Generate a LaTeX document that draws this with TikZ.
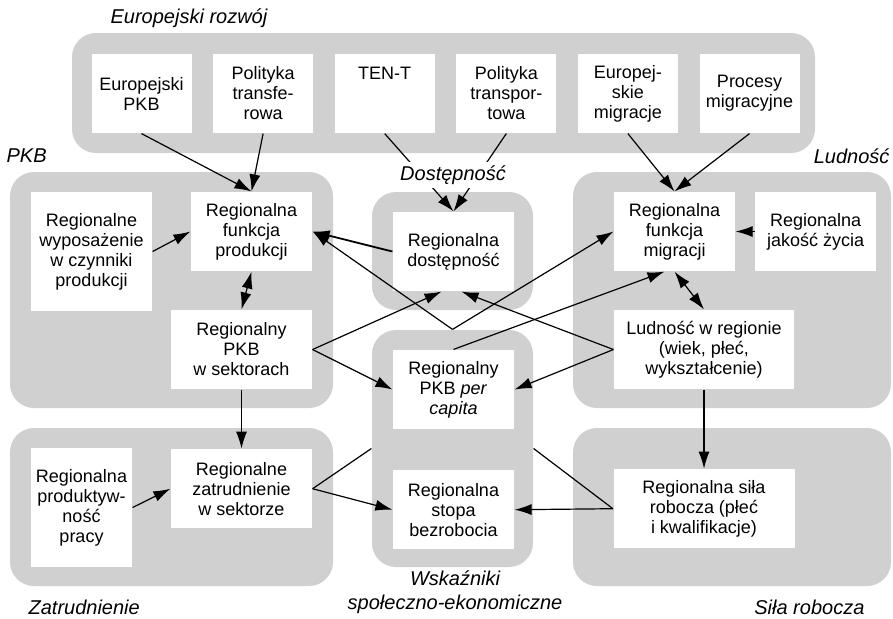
\documentclass[tikz,border=0pt]{standalone}
\usepackage{fontspec}
\setmainfont{Liberation Sans}
\usetikzlibrary{positioning, arrows.meta}

\definecolor{panelgray}{RGB}{208,208,208}

\tikzset{
  panel/.style = {fill=panelgray, rounded corners=12pt, inner sep=0pt},
  box/.style = {fill=white, align=center, inner sep=0pt, minimum width=60.5pt, minimum height=39.5pt},
  tallbox/.style = {box, minimum height=59.5pt},
  topbox/.style = {box, minimum width=50pt},
  grouplabel/.style = {font=\itshape, inner sep=0pt},
}

\begin{document}
\begin{tikzpicture}[x=0.5pt, y=-0.5pt, >={Latex[length=8.5pt, width=5.5pt]}, line width=0.6pt,
    font=\fontsize{9}{10}\selectfont, node distance=10.2pt]
    \useasboundingbox (0,0) rectangle (893,618);

    % grey groups
    \node[panel, minimum width=371.5pt, minimum height=60pt] (eur) at (443.5,93) {};
    \node[panel, minimum width=161.5pt, minimum height=118pt] (pkb) at (171.5,290) {};
    \node[panel, minimum width=80.5pt, minimum height=59pt] (dostp) at (452.5,251) {};
    \node[panel, minimum width=80.5pt, minimum height=118.5pt] (wsk) at (452.5,448.5) {};
    \node[panel, minimum width=159pt, minimum height=118pt] (ludp) at (732,290) {};
    \node[panel, minimum width=161.5pt, minimum height=79pt] (zatp) at (171.5,507) {};
    \node[panel, minimum width=159pt, minimum height=79pt] (silp) at (732,507) {};

    % European level
    \node[topbox] (eurpkb) at (141.5,93.5) {Europejski\\PKB};
    \node[topbox] (transf) [right = of eurpkb] {Polityka\\transfe-\\rowa};
    \node[topbox] (tent) [right = of transf] {TEN-T\\~\\~};
    \node[topbox] (transp) [right = of tent] {Polityka\\transpor-\\towa};
    \node[topbox] (eurmig) [right = of transp] {Europej-\\skie\\migracje};
    \node[topbox] (procmig) [right = of eurmig] {Procesy\\migracyjne};

    % regional level
    \node[tallbox] (wypos) at (91.5,251.5) {Regionalne\\wyposażenie\\w czynniki\\produkcji};
    \node[box] (fprod) at (251.5,231.5) {Regionalna\\funkcja\\produkcji};
    \node[box, minimum width=70.5pt] (pkbsekt) at (241.5,349.5) {Regionalny\\PKB\\w sektorach};
    \node[box] (dost) at (453.5,251.5) {Regionalna\\dostępność};
    \node[box] (pkbpc) at (453.5,389.5) {Regionalny\\PKB \textit{per}\\\textit{capita}};
    \node[box] (stopa) [below = 20pt of pkbpc] {Regionalna\\stopa\\bezrobocia};
    \node[box] (fmig) at (674.5,231.5) {Regionalna\\funkcja\\migracji};
    \node[box] (jakosc) [right = 9.5pt of fmig] {Regionalna\\jakość życia};
    \node[box, minimum width=90pt] (ludn) at (704,349.5) {Ludność w regionie\\(wiek, płeć,\\wykształcenie)};
    \node[tallbox, minimum width=50.5pt] (produkt) at (81.5,507.5) {Regionalna\\produktyw-\\ność\\pracy};
    \node[box, minimum width=70.5pt] (zatr) [below = 29.5pt of pkbsekt] {Regionalne\\zatrudnienie\\w sektorze};
    \node[box, minimum width=90.5pt] (sila) [below = 39.5pt of ludn] {Regionalna siła\\robocza (płeć\\ i kwalifikacje)};

    \path[->]
      (eurpkb.south) edge (fprod.north)
      (transf.south) edge (fprod.north)
      (tent.south) edge (dost.north)
      (transp.south) edge (dost.north)
      (eurmig.south) edge (fmig.north)
      (procmig.south) edge (fmig.north)
      (wypos.east) edge (fprod.west)
      (fprod.south) edge [<->] (pkbsekt.north)
      (dost.west) edge [line width=0.9pt] (fprod.east)
      (wsk.north) edge (fprod.east)
      (wsk.north) edge (fmig.west)
      (pkbsekt.east) edge ([xshift=-6pt]dost.south)
      (pkbsekt.east) edge (pkbpc.west)
      (ludn.west) edge ([xshift=4pt]dost.south)
      (ludn.west) edge (pkbpc.east)
      (pkbpc.north) edge ([xshift=-5pt]fmig.south)
      (fmig.south) edge [<->] (ludn.north)
      (jakosc.west) edge (fmig.east)
      (ludn.south) edge (sila.north)
      (pkbsekt.south) edge (zatr.north)
      (produkt.east) edge (zatr.west)
      (zatr.east) edge [-] (wsk.west)
      (zatr.east) edge (stopa.west)
      (sila.west) edge [-] (wsk.east)
      (sila.west) edge (stopa.east)
    ;

    % group labels
    \node[grouplabel, anchor=west] (leur) at (110,18) {Europejski rozwój};
    \node[grouplabel, anchor=west] (lpkb) at (6,156) {PKB};
    \node[grouplabel, anchor=east] (llud) at (890,156) {Ludność};
    \node[grouplabel, fill=white, inner sep=2pt] (ldost) at (453,175) {Dostępność};
    \node[grouplabel, align=center] (lwsk) at (455,592) {Wskaźniki\\społeczno-ekonomiczne};
    \node[grouplabel, anchor=west] (lzatr) at (28,607) {Zatrudnienie};
    \node[grouplabel, anchor=east] (lsila) at (865,607) {Siła robocza};
\end{tikzpicture}
\end{document}
